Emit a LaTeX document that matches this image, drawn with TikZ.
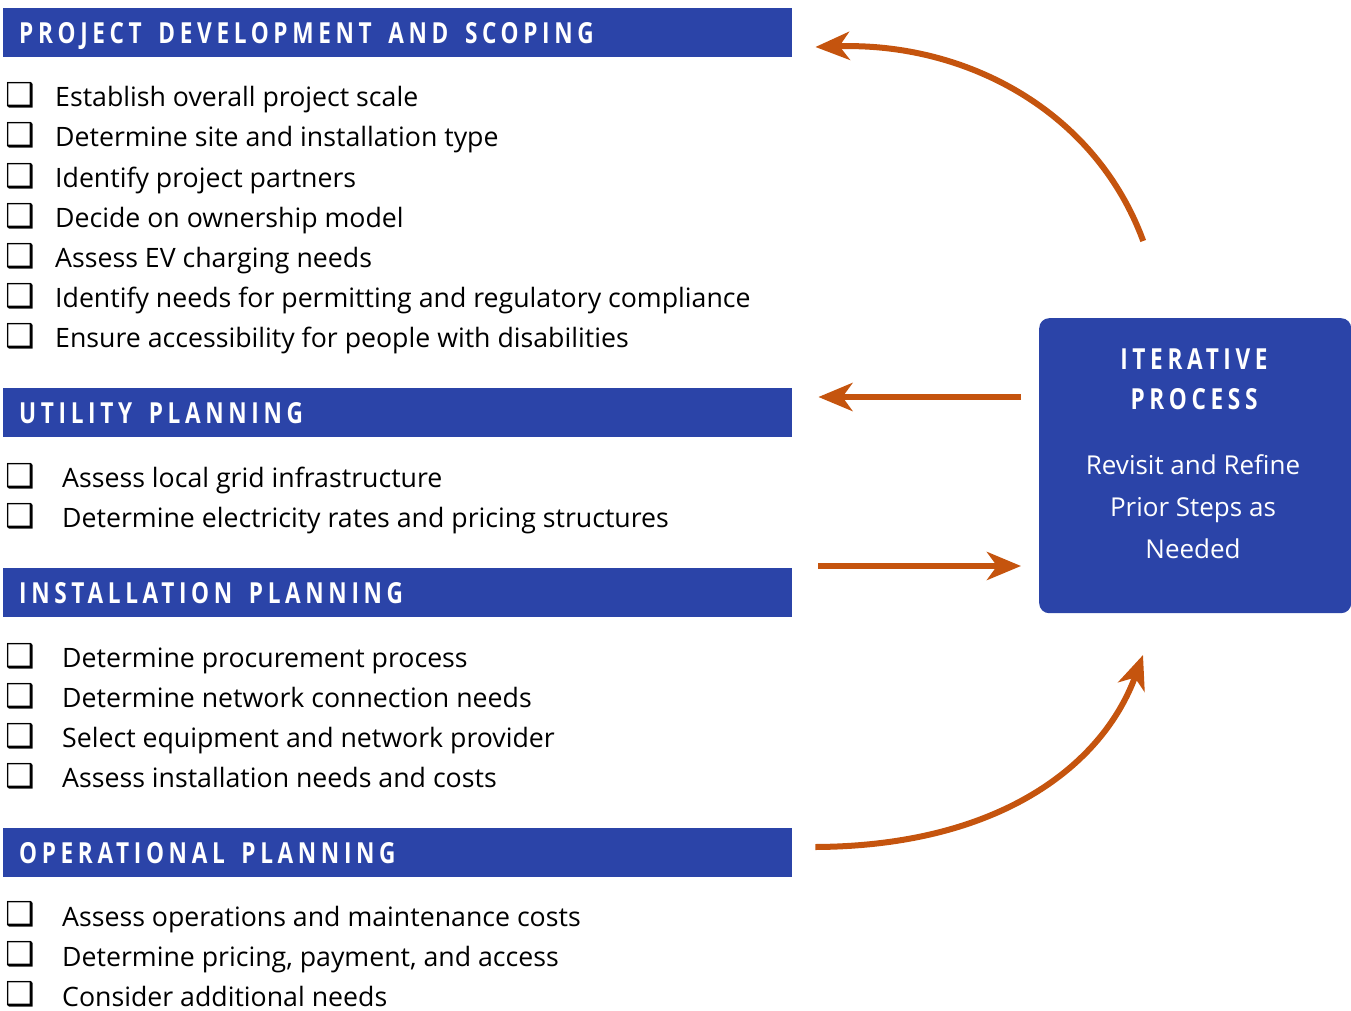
\documentclass[tikz,border=0pt]{standalone}
\usepackage{fontspec}
\setmainfont{Open Sans}
\newfontfamily\hdrfont{Open Sans}[FakeStretch=0.78,LetterSpace=16]
\newfontfamily\boxfont{DejaVu Sans}
\newcommand\hdrsetup{\hdrfont\bfseries\fontsize{29}{29}\selectfont}
\newcommand\wsp{\hspace*{7pt}}
\usetikzlibrary{arrows.meta}
\definecolor{barblue}{RGB}{43,68,168}
\definecolor{arrorange}{RGB}{197,84,14}
\begin{document}
\begin{tikzpicture}[x=1pt,y=-1pt,
  hdrtext/.style={text=white, font=\hdrsetup},
  bar/.style={hdrtext, fill=barblue, anchor=north west, minimum width=789, minimum height=49,
    text width=757, align=left, inner xsep=16, inner ysep=0, text height=20.7, text depth=0},
  item/.style={anchor=base west, inner sep=0, font=\fontsize{26.7}{26.7}\selectfont, text=black},
  chk/.style={anchor=base west, inner sep=0, text depth=0pt, font=\boxfont\bfseries\fontsize{33}{33}\selectfont},
  arr/.style={draw=arrorange, line width=6, -{Stealth[length=34,width=28,inset=10]}},
]
\useasboundingbox (0,0) rectangle (1351,1011);

% headers
\node[bar] (h1) at (3,8) {PROJECT \wsp DEVELOPMENT \wsp AND \wsp SCOPING};
\node[bar] (h2) at (3,388) {UTILITY \wsp PLANNING};
\node[bar] (h3) at (3,568) {INSTALLATION \wsp PLANNING};
\node[bar] (h4) at (3,828) {OPERATIONAL \wsp PLANNING};

% section 1 items
\foreach \t [count=\i] in {Establish overall project scale,
  Determine site and installation type,
  Identify project partners,
  Decide on ownership model,
  Assess EV charging needs,
  Identify needs for permitting and regulatory compliance,
  Ensure accessibility for people with disabilities}{
  \node[chk] (c1-\i) at (5,{67+40*\i}) {❑};
  \node[item] (t1-\i) at (55,{67+40*\i}) {\t};
}
% section 2
\foreach \t [count=\i] in {Assess local grid infrastructure,
  Determine electricity rates and pricing structures}{
  \node[chk] (c2-\i) at (5,{447+40*\i}) {❑};
  \node[item] (t2-\i) at (62,{447+40*\i}) {\t};
}
% section 3
\foreach \t [count=\i] in {Determine procurement process,
  Determine network connection needs,
  Select equipment and network provider,
  Assess installation needs and costs}{
  \node[chk] (c3-\i) at (5,{627+40*\i}) {❑};
  \node[item] (t3-\i) at (62,{627+40*\i}) {\t};
}
% section 4
\foreach \t [count=\i] in {Assess operations and maintenance costs,
  {Determine pricing, payment, and access},
  Consider additional needs}{
  \node[chk] (c4-\i) at (5,{885+40*\i}) {❑};
  \node[item] (t4-\i) at (62,{886+40*\i}) {\t};
}

% iterative box
\node[fill=barblue, rounded corners=10, minimum width=312, minimum height=295,
  anchor=north west, inner sep=0] (iter) at (1039,318) {};
\node[hdrtext, anchor=base, inner sep=0] (it1) at (1194,369) {ITERATIVE};
\node[hdrtext, anchor=base, inner sep=0] (it2) at (1194,409) {PROCESS};
\node[anchor=base, inner sep=0, text=white, font=\fontsize{26}{26}\selectfont]
  (it3) at (1193,474) {Revisit and Refine};
\node[anchor=base, inner sep=0, text=white, font=\fontsize{26}{26}\selectfont]
  (it4) at (1193,516) {Prior Steps as};
\node[anchor=base, inner sep=0, text=white, font=\fontsize{26}{26}\selectfont]
  (it5) at (1193,558) {Needed};

% arrow end points
\coordinate (a1s) at ([xshift=-52,yshift=77]iter.north -| iter.center);
\coordinate (a1e) at ([xshift=23]h1.east |- 0,47);
\coordinate (a2s) at ([xshift=-18]iter.west |- 0,397);
\coordinate (a2e) at ([xshift=26]h2.east |- 0,397);
\coordinate (a3s) at ([xshift=26]h3.east |- 0,566);
\coordinate (a3e) at ([xshift=-18]iter.west |- 0,566);
\coordinate (a4s) at ([xshift=23]h4.east |- 0,847);
\coordinate (a4e) at (1143,655);

\draw[arr] (a1s) .. controls (1095,110) and (965,42) .. (a1e);
\draw[arr] (a2s) -- (a2e);
\draw[arr] (a3s) -- (a3e);
\draw[arr] (a4s) .. controls (1000,846) and (1103,765) .. (a4e);
\end{tikzpicture}
\end{document}
